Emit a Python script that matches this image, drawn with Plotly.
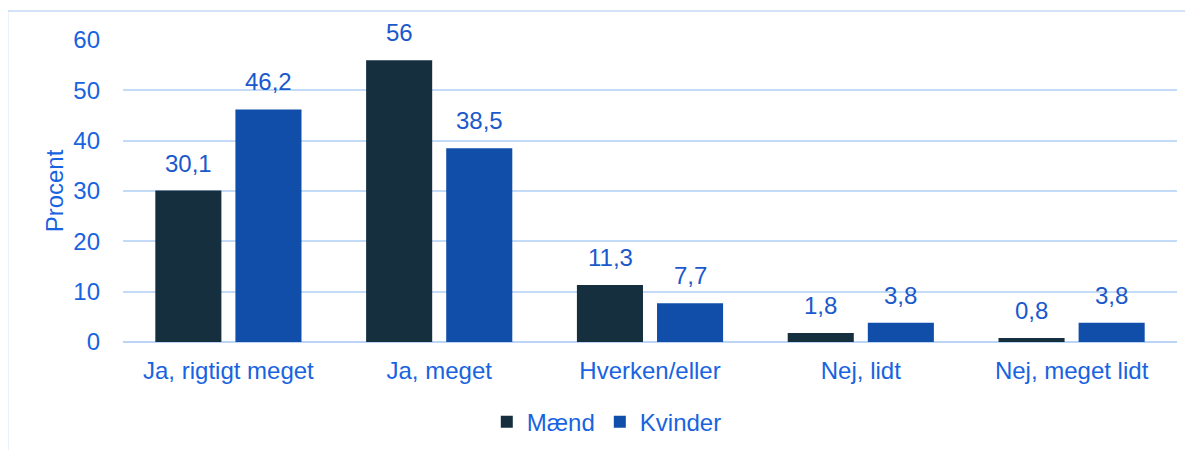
import plotly.graph_objects as go

categories = ["Ja, rigtigt meget", "Ja, meget", "Hverken/eller", "Nej, lidt", "Nej, meget lidt"]
maend = [30.1, 56.0, 11.3, 1.8, 0.8]
kvinder = [46.2, 38.5, 7.7, 3.8, 3.8]
series_names = ["Mænd", "Kvinder"]
y_ticks = [0, 10, 20, 30, 40, 50, 60]

BLUE_TXT = "#1863e0"
LABEL_TXT = "#1a58cc"
GRID = "#c4dbf8"
FONT = "Liberation Sans, Arial, sans-serif"
FS = 24

def fmt(v):
    return f"{v:g}".replace(".", ",")

fig = go.Figure()
fig.add_trace(go.Bar(x=categories, y=maend, name=series_names[0],
                     marker=dict(color="#152f3e", line=dict(width=0))))
fig.add_trace(go.Bar(x=categories, y=kvinder, name=series_names[1],
                     marker=dict(color="#104ea9", line=dict(width=0))))

annotations = []
for vals, shift in ((maend, -40), (kvinder, 40)):
    for c, v in zip(categories, vals):
        annotations.append(dict(x=c, y=v, xref="x", yref="y", text=fmt(v),
                                showarrow=False, xshift=shift, yshift=12,
                                yanchor="bottom",
                                font=dict(family=FONT, size=FS, color=LABEL_TXT)))

fig.update_layout(
    width=1185, height=442,
    margin=dict(l=115, r=16, t=32, b=108, autoexpand=False),
    paper_bgcolor="white", plot_bgcolor="white",
    barmode="group", bargap=0.24, bargroupgap=0.175,
    font=dict(family=FONT, size=FS, color=BLUE_TXT),
    showlegend=True,
    legend=dict(orientation="h", x=0.459, xanchor="center", y=-0.265, yanchor="middle",
                font=dict(family=FONT, size=FS, color=BLUE_TXT),
                traceorder="normal"),
    annotations=annotations,
    shapes=[dict(type="rect", xref="paper", yref="paper",
                 x0=-0.1095, x1=1.2, y0=-0.60, y1=1.096,
                 line=dict(color="#c5d9f3", width=1.5), layer="below")],
)
fig.update_yaxes(range=[0, 60], tickvals=y_ticks, showgrid=True, gridcolor=GRID, gridwidth=2,
                 zeroline=True, zerolinecolor="#bcd5f5", zerolinewidth=2,
                 showline=False, ticks="", ticklabelstandoff=22, automargin=False,
                 title=dict(text="Procent", standoff=2,
                            font=dict(family=FONT, size=FS, color=BLUE_TXT)),
                 tickfont=dict(family=FONT, size=FS, color=BLUE_TXT))
fig.update_xaxes(showgrid=False, showline=False, ticks="", ticklabelstandoff=12,
                 automargin=False,
                 tickfont=dict(family=FONT, size=FS, color=BLUE_TXT))

fig.write_html("out.html")
